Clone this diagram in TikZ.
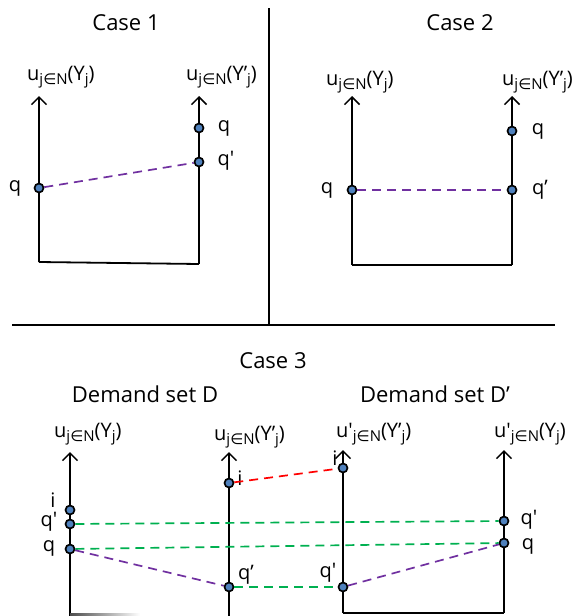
\documentclass[tikz,border=0pt]{standalone}
\usepackage{fontspec}
\setmainfont{Open Sans}
\newfontfamily\symfont{DejaVu Sans}
\usetikzlibrary{arrows.meta, positioning}

\definecolor{dotblue}{HTML}{4F81BD}
\definecolor{linkviolet}{HTML}{7030A0}
\definecolor{linkgreen}{HTML}{00B050}
\definecolor{linkred}{HTML}{FF0000}

\newcommand{\sbs}[1]{\raisebox{-4pt}{\fontsize{15}{15}\selectfont #1}}
\newcommand{\uj}[2]{u#1\sbs{j{\symfont ∈}N}(#2)}

\begin{document}
\begin{tikzpicture}[
  x=1pt, y=-1pt,
  axis/.style={draw, line width=1.8pt, -{Straight Barb[length=7.5pt, width=15pt, line width=1.5pt]}},
  base/.style={draw, line width=1.8pt},
  pt/.style={circle, draw, fill=dotblue, line width=1.7pt, inner sep=0pt, minimum size=9pt},
  title/.style={font=\fontsize{22}{26}\selectfont, anchor=base, inner sep=0pt},
  axlabel/.style={font=\fontsize{20}{24}\selectfont, anchor=base west, inner sep=0pt},
  ptlabel/.style={font=\fontsize{20}{24}\selectfont, inner sep=0pt},
  link/.style={draw, line width=1.7pt, dash pattern=on 9pt off 6pt}
]
\useasboundingbox (0,0) rectangle (586,616);

% Frame
\coordinate (divtop) at (269,8);
\coordinate (divbot) at (269,325);
\coordinate (hleft) at (12,325);
\coordinate (hright) at (555,325);
\draw[base] (divtop) -- (divbot);
\draw[base] (hleft) -- (hright);

% Case 1
\node[title] (case1) at (126,30) {Case 1};
\coordinate (c1lb) at (39,262);
\coordinate (c1lt) at (39,96);
\coordinate (c1rb) at (199,264);
\coordinate (c1rt) at (199,96);
\draw[axis] (c1lb) -- (c1lt);
\draw[axis] (c1rb) -- (c1rt);
\draw[base] (c1lb) -- (c1rb);
\node[axlabel] (c1lax) at (27,80) {\uj{}{Y\sbs{j}}};
\node[axlabel] (c1rax) at (186,80) {\uj{}{Y’\sbs{j}}};
\node[pt] (c1q) at (39,188) {};
\node[pt] (c1rq) at (199,128) {};
\node[pt] (c1rqp) at (199,162) {};
\node[ptlabel] at (15,188) {q};
\node[ptlabel] at (224,128) {q};
\node[ptlabel] at (226,161) {q\textquotesingle};
\draw[link, linkviolet] (c1q) -- (c1rqp);

% Case 2
\node[title] (case2) at (460,30) {Case 2};
\coordinate (c2lb) at (352,265);
\coordinate (c2lt) at (352,96);
\coordinate (c2rb) at (512,265);
\coordinate (c2rt) at (512,96);
\draw[axis] (c2lb) -- (c2lt);
\draw[axis] (c2rb) -- (c2rt);
\draw[base] (c2lb) -- (c2rb);
\node[axlabel] (c2lax) at (326,85) {\uj{}{Y\sbs{j}}};
\node[axlabel] (c2rax) at (502,85) {\uj{}{Y’\sbs{j}}};
\node[pt] (c2q) at (352,190) {};
\node[pt] (c2rq) at (512,131) {};
\node[pt] (c2rqp) at (512,190) {};
\node[ptlabel] at (327,190) {q};
\node[ptlabel] at (538,131) {q};
\node[ptlabel] at (540,190) {q’};
\draw[link, linkviolet] (c2q) -- (c2rqp);

% Case 3
\node[title] (case3) at (273,368) {Case 3};
\node[title] (setd) at (145,402) {Demand set D};
\node[title] (setdp) at (435,402) {Demand set D’};
\coordinate (aA) at (70,452);
\coordinate (bA) at (70,618);
\coordinate (aB) at (229,452);
\coordinate (bB) at (229,618);
\coordinate (aC) at (343,450);
\coordinate (bC) at (343,613);
\coordinate (aD) at (504,450);
\coordinate (bD) at (504,613);
\draw[axis] (bA) -- (aA);
\draw[axis] (bB) -- (aB);
\draw[axis] (bC) -- (aC);
\draw[axis] (bD) -- (aD);
\draw[base] (bC) -- (bD);
\shade[left color=black!70, right color=white] (70,613.5) rectangle (140,616);
\node[axlabel] (axA) at (54,437) {\uj{}{Y\sbs{j}}};
\node[axlabel] (axB) at (214,440) {\uj{}{Y’\sbs{j}}};
\node[axlabel] (axC) at (336,437) {\uj{\textquotesingle}{Y’\sbs{j}}};
\node[axlabel] (axD) at (494,437) {\uj{\textquotesingle}{Y\sbs{j}}};

\node[pt] (Ai) at (70,510) {};
\node[pt] (Aqp) at (70,524) {};
\node[pt] (Aq) at (70,549) {};
\node[pt] (Bi) at (229,483) {};
\node[pt] (Bqp) at (229,587) {};
\node[pt] (Ci) at (343,468) {};
\node[pt] (Cqp) at (343,587) {};
\node[pt] (Dqp) at (504,521) {};
\node[pt] (Dq) at (504,543) {};

\node[ptlabel] at (53,500) {i};
\node[ptlabel] at (49,522) {q\textquotesingle};
\node[ptlabel] at (49,548) {q};
\node[ptlabel] at (240,478) {i};
\node[ptlabel] at (246,575) {q’};
\node[ptlabel] at (335,458) {i};
\node[ptlabel] at (328,573) {q\textquotesingle};
\node[ptlabel] at (529,520) {q\textquotesingle};
\node[ptlabel] at (528,546) {q};

\draw[link, linkred] (Bi) -- (Ci);
\draw[link, linkgreen] (Aqp) -- (Dqp);
\draw[link, linkgreen] (Aq) -- (Dq);
\draw[link, linkgreen] (Bqp) -- (Cqp);
\draw[link, linkviolet] (Aq) -- (Bqp);
\draw[link, linkviolet] (Cqp) -- (Dq);

\end{tikzpicture}
\end{document}
